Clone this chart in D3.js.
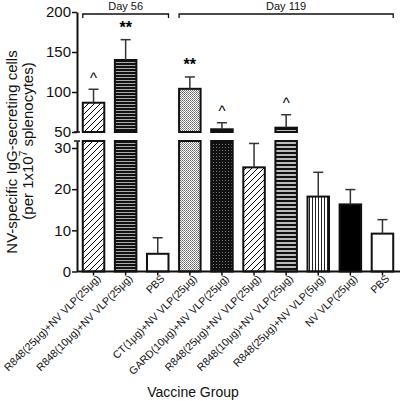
<!DOCTYPE html>
<html>
<head>
<meta charset="utf-8">
<script src="https://cdn.jsdelivr.net/npm/d3@7"></script>
<style>
  html, body { margin: 0; padding: 0; background: #fff; }
  svg { display: block; font-family: "Liberation Sans", Arial, sans-serif; }
</style>
</head>
<body>
<svg id="chart" width="400" height="401"></svg>
<script>
// ---- data ----
const categories = [
  "R848(25\u03bcg)+NV VLP(25\u03bcg)",
  "R848(10\u03bcg)+NV VLP(25\u03bcg)",
  "PBS",
  "CT(1\u03bcg)+NV VLP(25\u03bcg)",
  "GARD(10\u03bcg)+NV VLP(25\u03bcg)",
  "R848(25\u03bcg)+NV VLP(25\u03bcg) ",
  "R848(10\u03bcg)+NV VLP(25\u03bcg) ",
  "R848(25\u03bcg)+NV VLP(5\u03bcg)",
  "NV VLP(25\u03bcg)",
  "PBS "
];
const means  = [86.6, 140, 4.3, 104, 53.4, 25.3, 55.4, 18.2, 16.3, 9.2];
const errors = [16.8, 25.4, 3.9, 14.8, 8.2, 5.8, 16.2, 5.9, 3.6, 3.4];
const marks  = ["^", "**", "", "**", "^", "", "^", "", "", ""];
const fills  = ["hatch", "hdense", "white", "dots", "darkdots", "hatch", "hmed", "vlines", "black", "white"];
const lowerTicks = [0, 10, 20, 30];
const upperTicks = [50, 100, 150, 200];
const groups = [
  { label: "Day 56",  from: 0, to: 2 },
  { label: "Day 119", from: 3, to: 9 }
];
const yTitle1 = "NV-specific IgG-secreting cells";
const xTitle = "Vaccine Group";

// ---- scales ----
const svg = d3.select("#chart");
const x = d3.scaleBand().domain(categories).range([77, 399]).paddingInner(0.33).paddingOuter(0.18);
const lowMax = 31.7;
const yLow = d3.scaleLinear().domain([0, lowMax]).range([271.5, 141]);
const yHigh = d3.scaleLinear().domain([50, 200]).range([132, 12]);

// ---- patterns ----
const defs = svg.append("defs");
function pat(id, w, h, build) {
  const p = defs.append("pattern").attr("id", id).attr("patternUnits", "userSpaceOnUse")
    .attr("width", w).attr("height", h);
  build(p);
}
pat("hatch", 6, 6, p => {
  p.append("rect").attr("width", 6).attr("height", 6).attr("fill", "#fff");
  p.append("path").attr("d", "M0,6L6,0M-1,1L1,-1M5,7L7,5").attr("stroke", "#000").attr("stroke-width", 1);
});
pat("hdense", 3, 3, p => {
  p.append("rect").attr("width", 3).attr("height", 3).attr("fill", "#aaa");
  p.append("rect").attr("width", 3).attr("height", 2).attr("fill", "#111");
});
pat("hmed", 4, 4, p => {
  p.append("rect").attr("width", 4).attr("height", 4).attr("fill", "#bbb");
  p.append("rect").attr("width", 4).attr("height", 2).attr("fill", "#111");
});
pat("dots", 2, 2, p => {
  p.append("rect").attr("width", 2).attr("height", 2).attr("fill", "#fff");
  p.append("rect").attr("width", 1).attr("height", 1).attr("fill", "#666");
  p.append("rect").attr("x", 1).attr("y", 1).attr("width", 1).attr("height", 1).attr("fill", "#888");
});
pat("darkdots", 3, 3, p => {
  p.append("rect").attr("width", 3).attr("height", 3).attr("fill", "#111");
  p.append("rect").attr("width", 1).attr("height", 1).attr("fill", "#777");
});
pat("vlines", 3, 3, p => {
  p.append("rect").attr("width", 3).attr("height", 3).attr("fill", "#fff");
  p.append("rect").attr("width", 1).attr("height", 3).attr("fill", "#222");
});
function fillOf(f) {
  if (f === "white") return "#fff";
  if (f === "black") return "#000";
  return "url(#" + f + ")";
}

// ---- bars ----
const data = categories.map((c, i) => ({ c, m: means[i], e: errors[i], mark: marks[i], f: fills[i] }));
const barG = svg.append("g");
data.forEach(d => {
  const x0 = x(d.c), w = x.bandwidth();
  const lowTop = d.m >= 50 ? lowMax : Math.min(d.m, lowMax);
  barG.append("rect").attr("x", x0).attr("y", yLow(lowTop)).attr("width", w)
    .attr("height", yLow(0) - yLow(lowTop)).attr("fill", fillOf(d.f))
    .attr("stroke", "#111").attr("stroke-width", 2);
  if (d.m >= 50) {
    barG.append("rect").attr("x", x0).attr("y", yHigh(d.m)).attr("width", w)
      .attr("height", yHigh(50) - yHigh(d.m)).attr("fill", fillOf(d.f))
      .attr("stroke", "#111").attr("stroke-width", 2);
  }
  // error bar
  const ys = d.m >= 50 ? yHigh : yLow;
  const cx = x0 + w / 2;
  const yt = ys(d.m + d.e), yb = ys(d.m);
  barG.append("line").attr("x1", cx).attr("x2", cx).attr("y1", yt).attr("y2", yb)
    .attr("stroke", "#333").attr("stroke-width", 1.5);
  barG.append("line").attr("x1", cx - 5).attr("x2", cx + 5).attr("y1", yt).attr("y2", yt)
    .attr("stroke", "#333").attr("stroke-width", 1.5);
  if (d.mark) {
    barG.append("text").attr("x", cx).attr("y", yt - 6.5).attr("text-anchor", "middle")
      .attr("font-size", d.mark === "^" ? 15 : 16).attr("font-weight", d.mark === "^" ? "normal" : "bold")
      .text(d.mark);
  }
});

// ---- axes ----
function styleAxis(g) {
  g.select(".domain").attr("stroke", "#111").attr("stroke-width", 2);
  g.selectAll(".tick line").attr("stroke", "#111").attr("stroke-width", 1.5);
  g.selectAll(".tick text").attr("font-size", 15).attr("fill", "#111").attr("font-family", "Liberation Sans, Arial, sans-serif");
}
const ax1 = svg.append("g").attr("transform", "translate(77,0)")
  .call(d3.axisLeft(yLow).tickValues(lowerTicks).tickSize(5).tickSizeOuter(0).tickPadding(1));
styleAxis(ax1);
const ax2 = svg.append("g").attr("transform", "translate(77,0)")
  .call(d3.axisLeft(yHigh).tickValues(upperTicks).tickSize(5).tickSizeOuter(0).tickPadding(1));
styleAxis(ax2);
// segment caps
[yHigh(50), yLow(lowMax)].forEach(yy => {
  svg.append("line").attr("x1", 74).attr("x2", 80).attr("y1", yy).attr("y2", yy)
    .attr("stroke", "#111").attr("stroke-width", 1.5);
});

const axX = svg.append("g").attr("transform", "translate(0," + yLow(0) + ")")
  .call(d3.axisBottom(x).tickSize(4).tickSizeOuter(0));
axX.select(".domain").attr("stroke", "#111").attr("stroke-width", 2).attr("d", "M77,0H400");
axX.selectAll(".tick line").attr("stroke", "#111").attr("stroke-width", 1.5);
axX.selectAll(".tick text")
  .attr("font-size", 10.6).attr("fill", "#111")
  .attr("text-anchor", "end")
  .attr("transform", "translate(5,5) rotate(-45)")
  .attr("x", 0).attr("y", 0).attr("dy", "0.35em")
  .text(d => d.trim());

// ---- group brackets ----
groups.forEach(gp => {
  const xa = x(categories[gp.from]);
  const xb = x(categories[gp.to]) + x.bandwidth();
  svg.append("path").attr("d", `M${xa},18V14H${xb}V18`).attr("fill", "none")
    .attr("stroke", "#111").attr("stroke-width", 1.3);
  svg.append("text").attr("x", (xa + xb) / 2).attr("y", 10).attr("text-anchor", "middle")
    .attr("font-size", 11).attr("fill", "#111").text(gp.label);
});

// ---- titles ----
svg.append("text").attr("transform", "translate(17,152) rotate(-90)")
  .attr("text-anchor", "middle").attr("font-size", 15).attr("fill", "#111").text(yTitle1);
const t2 = svg.append("text").attr("transform", "translate(33,141) rotate(-90)")
  .attr("text-anchor", "middle").attr("font-size", 15).attr("fill", "#111");
t2.append("tspan").text("(per 1x10");
t2.append("tspan").attr("font-size", 10).attr("dy", -6).text("7");
t2.append("tspan").attr("dy", 6).text(" splenocytes)");

svg.append("text").attr("x", 193).attr("y", 397).attr("text-anchor", "middle")
  .attr("font-size", 14).attr("fill", "#111").text(xTitle);
</script>
</body>
</html>
